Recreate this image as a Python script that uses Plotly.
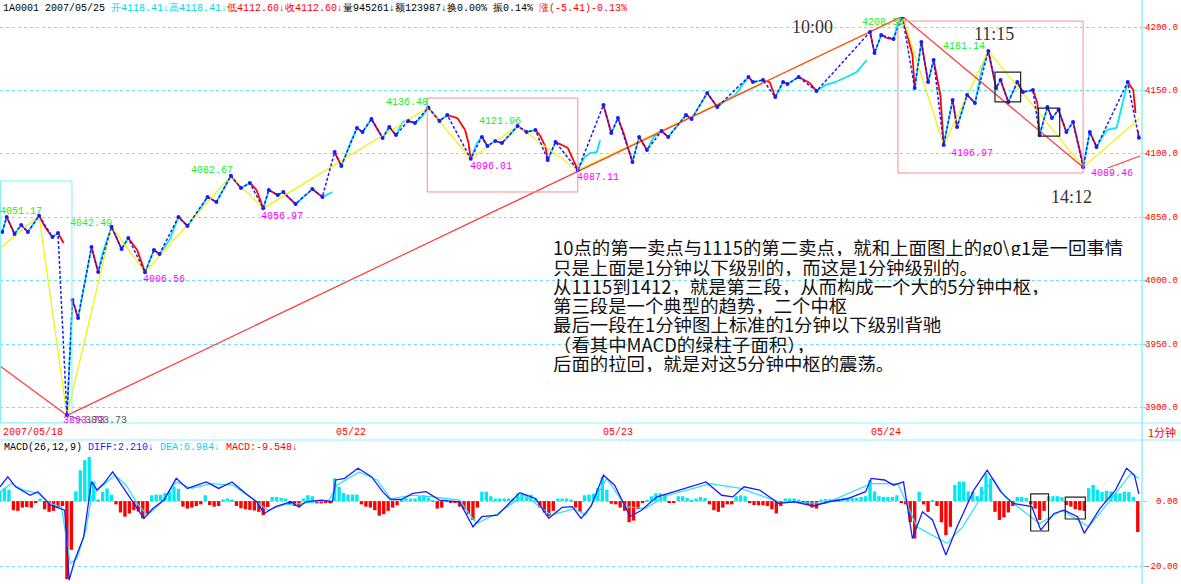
import plotly.graph_objects as go

# ---------------- data ----------------
DAY_LABELS = ["2007/05/18", "05/22", "05/23", "05/24"]
DAY_START_BARS = [1, 299, 539, 779]
PRICE_TICKS = [3900, 3950, 4000, 4050, 4100, 4150, 4200]
MACD_TICKS = [0, -20]

# 1-minute price path, per session (bar index, index level)
P18_T = [2, 6, 13, 19, 25, 35, 41, 47, 52, 57]
P18_V = [4038.3, 4050.2, 4036.8, 4043.9, 4038.3, 4051.17, 4041.5, 4034.4, 4037.5, 4029.7]
P21_T = [60, 65, 70, 82, 88, 92, 100, 109, 115, 123, 130, 138, 143, 152, 160, 168, 177, 186, 194, 207,
         216, 224, 230, 236, 241, 249, 254, 258, 265, 272, 280, 289, 298]
P21_V = [3893.73, 3984.7, 3970.5, 4026.5, 4006.8, 4021.8, 4042.49, 4024.9, 4033.6, 4024.1,
         4006.56, 4024.1, 4021.0, 4032.0, 4050.2, 4043.1, 4053.3, 4065.9, 4062.0, 4082.67,
         4073.0, 4077.0, 4071.5, 4056.97, 4071.5, 4067.5, 4069.9, 4066.0, 4060.4, 4066.0,
         4072.2, 4066.0, 4069.9]
P22_T = [300, 306, 314, 320, 325, 333, 343, 349, 355, 361, 366, 372, 378, 384, 394, 401, 410, 417, 420, 422,
         428, 432, 437, 444, 450, 457, 464, 472, 480, 484, 489, 491, 498, 504, 509, 514, 518, 524, 529, 535, 538]
P22_V = [4101.4, 4090.4, 4108.5, 4120.4, 4117.2, 4127.4, 4112.5, 4121.1, 4114.8, 4125.1,
         4125.9, 4124.3, 4129.0, 4136.48, 4125.9, 4130.6, 4128.2, 4118.8, 4108.5, 4096.01,
         4109.3, 4113.3, 4106.2, 4110.1, 4108.5, 4114.8, 4121.96, 4117.2, 4118.8, 4114.8,
         4105.4, 4095.1, 4109.3, 4106.9, 4104.6, 4095.1, 4087.11, 4097.5, 4100.6, 4101.4, 4110.9]
P23_T = [541, 548, 554, 559, 567, 573, 580, 586, 593, 599, 607, 615, 620, 634, 643, 652, 659, 671, 675, 684,
         690, 695, 702, 706, 716, 726, 732, 740, 749, 759, 768, 777]
P23_V = [4138.5, 4116.4, 4128.2, 4116.4, 4093.5, 4113.3, 4103.0, 4113.3, 4118.0, 4113.3,
         4121.9, 4130.6, 4127.4, 4148.0, 4136.9, 4143.2, 4146.4, 4160.6, 4156.6, 4158.2,
         4156.6, 4144.8, 4156.6, 4155.0, 4160.6, 4155.8, 4149.5, 4154.3, 4156.6, 4160.6,
         4164.5, 4174.0]
P24_T = [780, 784, 790, 795, 801, 805, 809, 818, 820, 826, 832, 837, 843, 846, 854, 858, 867, 874, 880, 886,
         893, 897, 904, 912, 917, 926, 930, 932, 939, 943, 949, 956, 962, 970, 971, 977, 983, 992, 1001, 1011,
         1016, 1018]
P24_V = [4196.1, 4179.5, 4193.7, 4191.3, 4190.5, 4203.2, 4208.39, 4177.9, 4151.9, 4188.2,
         4156.6, 4174.0, 4146.4, 4106.97, 4142.4, 4121.1, 4146.4, 4140.1, 4166.1, 4181.14,
         4151.9, 4158.2, 4140.9, 4156.6, 4148.7, 4150.3, 4140.1, 4114.8, 4136.9, 4128.2,
         4134.5, 4117.2, 4125.1, 4095.1, 4089.46, 4117.2, 4105.4, 4118.8, 4120.4, 4156.6,
         4150.3, 4132.2]
P25_T = [1020, 1021]
P25_V = [4118.41, 4112.60]

# 1-minute strokes (yellow) pivots
ZZ_T = [0, 35, 60, 100, 130, 207, 236, 384, 422, 464, 518, 809, 846, 886, 971, 1022]
ZZ_V = [4025.7, 4051.17, 3893.73, 4042.49, 4006.56, 4082.67, 4056.97, 4136.48, 4096.01, 4121.96,
        4087.11, 4208.39, 4106.97, 4181.14, 4089.46, 4128.2]

# red trend lines (start bar, start level, end bar, end level)
TREND_LINES = [(0, 3932.7, 60, 3893.73), (60, 3893.73, 809, 4208.39),
               (809, 4208.39, 971, 4089.46), (993, 4088.8, 1022, 4098.3)]

# pivot labels: text, bar, level, kind
PIVOT_LABELS = [("4051.17", 19, 4054.5, "hi"), ("4042.49", 82, 4045.0, "hi"),
                ("4006.56", 147, 4000.5, "lo"), ("4082.67", 190, 4086.6, "hi"),
                ("4056.97", 253, 4050.9, "lo"), ("4136.48", 365, 4140.3, "hi"),
                ("4121.96", 448, 4125.3, "hi"), ("4096.01", 440, 4089.6, "lo"),
                ("4087.11", 536, 4081.7, "lo"), ("4208.39", 792, 4203.9, "hi"),
                ("4181.14", 864, 4184.4, "hi"), ("4106.97", 871, 4100.6, "lo"),
                ("4089.46", 997, 4084.1, "lo"), ("3893.73", 75, 3889.5, "lo")]

# boxes (bar0, bar1, level0, level1)
BOX_CYAN = (0.5, 64.5, 3887.7, 4078.6)
BOX_PINK = [(383, 518, 4069.9, 4144.0), (805, 971, 4084.9, 4204.7)]
BOX_BLACK = [(892, 915, 4140.9, 4164.5), (931, 950, 4114.0, 4136.1)]
MACD_BOX_BLACK = [(924, 940, -9.2, 2.2), (955, 973, -5.5, 1.2)]

# MACD histogram, one reading every 4 bars starting at bar 0
MACD_STEP = 4
MACD_HIST = [
    3.0, 4.0, 3.5, -2.8, -3.0, -2.0, -1.8, -2.0, -0.5, 0.8, -2.5, -3.3, -3.0, -2.0, -1.5, -24.0,
    -15.0, 3.0, 9.5, 12.6, 13.6, 6.0, 0.5, 2.8, 3.9, 2.0, -1.0, -3.5, -4.8, -3.8, -2.8, -3.2,
    -5.3, -3.8, 1.8, 2.0, 2.0, 2.5, 3.0, 4.4, 3.8, -1.7, -2.3, -2.0, -1.5, -1.0, 1.8, -1.2,
    -1.7, -1.5, 0.5, 0.8, 0.5, -1.5, -2.2, -2.5, -2.7, -2.9, -3.3, -4.3, -1.8, 1.3, 1.3, 1.0,
    0.8, -1.0, -1.5, -1.5, 0.8, 1.8, 1.5, -0.7, -0.7, -0.5, -0.7, 7.0, 4.4, 2.5, 2.0, 2.0,
    2.0, -1.0, -1.7, -2.0, -2.8, -4.5, -4.0, -3.0, -2.0, -1.3, 0.5, 0.8, 0.8, 0.8, 1.5, 1.8,
    1.0, 0.3, -2.3, -2.0, 0.3, -0.3, -0.5, -1.7, -2.5, -4.0, -5.8, -2.0, 2.9, 2.9, 1.5, 0.8,
    0.8, 0.8, 0.8, 0.8, 2.4, 2.4, 2.0, 2.0, 1.0, -2.0, -3.5, -4.6, -3.0, 0.8, 0.8, 0.8,
    0.5, -2.0, -3.3, 1.8, 2.0, 2.3, 4.0, 7.5, 3.5, -0.8, -1.0, -2.0, -3.0, -6.5, -6.0, -2.5,
    -0.3, 0.3, 1.5, 2.4, 2.4, 2.0, -0.5, -0.5, 1.5, 1.5, 1.0, 0.3, 0.8, 1.3, 1.0, -1.0,
    -2.8, -3.3, -2.0, -1.0, -1.0, 1.5, 1.8, 1.5, -0.5, -1.2, -1.3, -1.3, -1.5, -2.5, -3.8, -1.5,
    0.8, 0.8, 0.8, 0.5, -0.5, -1.2, -2.0, -2.3, 0.5, 0.6, 0.6, 0.6, 0.6, 0.8, 0.8, 1.0,
    1.0, 1.3, 1.5, 6.5, 3.0, 1.5, 1.3, 1.3, 1.3, 1.8, -0.5, -1.0, -6.5, -11.5, 2.9, -1.0,
    -3.3, 0.3, -1.5, -6.5, -10.5, -7.9, 5.0, 6.0, 6.0, 3.0, 2.9, 1.5, 4.4, 8.5, 7.0, -3.3,
    -5.8, -5.0, -3.5, -1.5, 1.3, 1.3, 1.0, -1.0, -2.3, -5.8, -3.0, 1.5, 1.5, 1.5, 1.2, -1.2,
    -1.7, -2.5, -2.8, -3.0, 4.0, 5.0, 3.5, 2.8, 3.2, 3.0, 2.4, 2.4, 2.9, 2.8, 1.3, -9.5,
]

DIFF_T = [0, 7, 14, 27, 34, 45, 51, 58, 62, 67, 75, 82, 87, 93, 101, 110, 118, 129, 137, 147,
          158, 168, 185, 196, 208, 220, 230, 237, 247, 261, 268, 274, 288, 298, 301, 309, 321, 333, 343, 350,
          360, 370, 382, 394, 412, 424, 432, 446, 466, 480, 492, 504, 513, 521, 530, 541, 551, 565, 575, 589,
          609, 633, 647, 657, 667, 681, 698, 712, 729, 743, 760, 776, 781, 793, 801, 810, 818, 827, 836, 848,
          858, 873, 885, 897, 908, 925, 933, 945, 954, 966, 972, 986, 1000, 1010, 1017, 1021]
DIFF_V = [4.4, 7.5, 4.4, 1.8, 2.9, -1.2, -1.9, -2.8, -24.3, -18.2, -11.0, 6.0, 3.4, 5.4, 9.0, 4.4, 0.3, -5.3, -2.3, 0.3,
          7.0, 3.9, 5.9, 3.9, 5.9, 2.4, -0.2, -3.8, -1.7, -0.2, -1.9, -0.2, 0.3, -0.2, 6.5, 7.0, 10.1, 7.5, 2.9, 0.5,
          0.5, 2.4, 2.9, 0.3, -0.2, -7.9, -4.8, -4.3, 2.6, 0.8, -5.3, -1.9, -1.7, -5.3, -1.5, 8.0, 4.9, -4.8, -2.8, 1.3,
          3.4, 5.9, 1.8, 1.3, 4.4, 3.4, -0.7, -0.2, -1.5, -0.2, 0.8, 2.9, 7.0, 6.5, 4.9, 5.9, -11.5, -3.3, -5.8, -16.6,
          -7.9, 3.4, 9.5, 2.9, -0.7, -1.7, -8.9, -3.8, -2.8, -4.8, -9.9, -2.3, 3.4, 10.1, 8.0, 2.21]
DEA_T = [0, 10, 21, 34, 45, 55, 63, 69, 77, 82, 89, 103, 113, 123, 132, 144, 158, 172, 189, 209,
         226, 240, 254, 271, 295, 302, 322, 338, 350, 370, 388, 412, 427, 446, 470, 494, 515, 525, 544, 561,
         578, 599, 637, 664, 698, 740, 781, 805, 822, 849, 863, 890, 901, 932, 952, 976, 993, 1014, 1021]
DEA_V = [2.9, 5.4, 3.4, 2.4, -0.7, -1.7, -19.2, -17.6, -8.9, 1.3, 3.9, 8.0, 4.9, -0.7, -4.3, -0.7, 5.9, 3.9, 5.4, 4.9,
         0.8, -2.8, -1.2, -0.7, 0.3, 4.9, 9.0, 6.5, 0.8, 1.8, 1.3, 0.3, -6.9, -3.8, 1.8, -4.3, -2.3, -4.3, 7.0, -1.7,
         -2.3, 1.8, 5.4, 3.9, -0.2, -0.7, 5.4, 5.4, -7.9, -13.0, -7.9, 7.0, 1.3, -6.9, -2.8, -7.9, -0.7, 8.5, 6.984]

NOTE_LINES = [
    "10点的第一卖点与1115的第二卖点，就和上面图上的g0\\g1是一回事情",
    "只是上面是1分钟以下级别的，而这是1分钟级别的。",
    "从1115到1412，就是第三段，从而构成一个大的5分钟中枢，",
    "第三段是一个典型的趋势，二个中枢",
    "最后一段在1分钟图上标准的1分钟以下级别背驰",
    "（看其中MACD的绿柱子面积），",
    "后面的拉回，就是对这5分钟中枢的震荡。",
]
TIME_MARKS = [("10:00", 728, 4200.0), ("11:15", 891, 4194.5), ("14:12", 961, 4065.9)]

# ---------------- styling ----------------
W, H = 1181, 584
RIGHT = 1142 / W
MAIN_DOM = [1 - 423 / H, 1 - 17 / H]
MACD_DOM = [0, 1 - 440 / H]
XR = [0, 1023.8]
RED = "#ff0000"
CYAN = "#00e8f0"
GRID = "#6fe3ee"
BLUE = "#1a1aff"
YEL = "#f2f200"
MONO = "Liberation Mono, DejaVu Sans Mono, monospace"
CJK = "Noto Sans CJK SC, sans-serif"

fig = go.Figure()

# price line split into rising (cyan) and falling (red) pieces
sessions = [(P18_T, P18_V), (P21_T, P21_V), (P22_T, P22_V), (P23_T, P23_V), (P24_T, P24_V), (P25_T, P25_V)]
ux, uy, dx, dy = [], [], [], []
for t, v in sessions:
    for i in range(len(t) - 1):
        if v[i + 1] >= v[i]:
            ux += [t[i], t[i + 1], None]; uy += [v[i], v[i + 1], None]
        else:
            dx += [t[i], t[i + 1], None]; dy += [v[i], v[i + 1], None]
fig.add_trace(go.Scatter(x=ux, y=uy, mode="lines", line=dict(color=CYAN, width=1.8), hoverinfo="skip"))
fig.add_trace(go.Scatter(x=dx, y=dy, mode="lines", line=dict(color=RED, width=1.8), hoverinfo="skip"))

# yellow strokes
fig.add_trace(go.Scatter(x=ZZ_T, y=ZZ_V, mode="lines", line=dict(color=YEL, width=1.2), hoverinfo="skip"))

# red trend lines
tx, ty = [], []
for a, b, c, d in TREND_LINES:
    tx += [a, c, None]; ty += [b, d, None]
fig.add_trace(go.Scatter(x=tx, y=ty, mode="lines", line=dict(color="#ff3b3b", width=1.2), hoverinfo="skip"))

# blue dashed lower-level zigzag through local turning points
all_t = [x for t, _ in sessions for x in t]
all_v = [y for _, v in sessions for y in v]
piv = [0]
for i in range(1, len(all_v) - 1):
    if (all_v[i] - all_v[i - 1]) * (all_v[i + 1] - all_v[i]) < 0:
        piv.append(i)
piv.append(len(all_v) - 1)
fig.add_trace(go.Scatter(x=[all_t[i] for i in piv], y=[all_v[i] for i in piv], mode="lines+markers",
                         line=dict(color=BLUE, width=1.5, dash="3px,2px"),
                         marker=dict(color=BLUE, size=4), hoverinfo="skip"))

# MACD histogram
hx = [i * MACD_STEP for i in range(len(MACD_HIST))]
fig.add_trace(go.Bar(x=[x for x, v in zip(hx, MACD_HIST) if v >= 0], y=[v for v in MACD_HIST if v >= 0],
                     width=3.0, marker=dict(color=CYAN, line=dict(width=0)), xaxis="x2", yaxis="y2",
                     hoverinfo="skip"))
fig.add_trace(go.Bar(x=[x for x, v in zip(hx, MACD_HIST) if v < 0], y=[v for v in MACD_HIST if v < 0],
                     width=3.0, marker=dict(color=RED, line=dict(width=0)), xaxis="x2", yaxis="y2",
                     hoverinfo="skip"))
fig.add_trace(go.Scatter(x=DEA_T, y=DEA_V, mode="lines", line=dict(color="#22e6f2", width=1.2),
                         xaxis="x2", yaxis="y2", hoverinfo="skip"))
fig.add_trace(go.Scatter(x=DIFF_T, y=DIFF_V, mode="lines", line=dict(color=BLUE, width=1.3),
                         xaxis="x2", yaxis="y2", hoverinfo="skip"))

shapes = []
def rect(b, color, xr="x", yr="y", w=1):
    shapes.append(dict(type="rect", xref=xr, yref=yr, x0=b[0], x1=b[1], y0=b[2], y1=b[3],
                       line=dict(color=color, width=w), fillcolor="rgba(0,0,0,0)", layer="above"))
rect(BOX_CYAN, "#7ff0f5")
for b in BOX_PINK:
    rect(b, "#ff8c8c")
for b in BOX_BLACK:
    rect(b, "#222222", w=1.2)
for b in MACD_BOX_BLACK:
    rect(b, "#222222", xr="x2", yr="y2", w=1.2)
# panel frame lines
for yy in [MAIN_DOM[0], MACD_DOM[1]]:
    shapes.append(dict(type="line", xref="paper", yref="paper", x0=0, x1=1, y0=yy, y1=yy,
                       line=dict(color="#8ff0f5", width=1)))
shapes.append(dict(type="line", xref="paper", yref="paper", x0=RIGHT, x1=RIGHT, y0=0, y1=1,
                   line=dict(color="#8ff0f5", width=1.5)))

ann = []
header = ('<span style="color:#000">1A0001 2007/05/25 </span>'
          '<span style="color:#00d8e8">开4118.41↓高4118.41↓</span>'
          '<span style="color:#ff0000">低4112.60↓收4112.60↓</span>'
          '<span style="color:#000">量945261↓额123987↓换0.00% 振0.14% </span>'
          '<span style="color:#ff0000">涨(-5.41)-0.13%</span>')
ann.append(dict(text=header, xref="paper", yref="paper", x=0.001, y=1 - 8 / H, xanchor="left",
                yanchor="middle", showarrow=False, font=dict(family=MONO, size=10)))
macd_head = ('<span style="color:#000">MACD(26,12,9) </span>'
             '<span style="color:#1a1aff">DIFF:2.210↓ </span>'
             '<span style="color:#00d8e8">DEA:6.984↓ </span>'
             '<span style="color:#ff0000">MACD:-9.548↓</span>')
ann.append(dict(text=macd_head, xref="paper", yref="paper", x=0.002, y=1 - 447 / H, xanchor="left",
                yanchor="middle", showarrow=False, font=dict(family=MONO, size=10)))
for lab, b in zip(DAY_LABELS, DAY_START_BARS):
    ann.append(dict(text=lab, xref="x", yref="paper", x=b, y=1 - 432 / H, xanchor="left", yanchor="middle",
                    showarrow=False, font=dict(family=MONO, size=10, color=RED)))
ann.append(dict(text="1分钟", xref="paper", yref="paper", x=1162 / W, y=1 - 432 / H, xanchor="center",
                yanchor="middle", showarrow=False, font=dict(family=CJK, size=11, color=RED)))
# right-hand axis labels
for v in PRICE_TICKS:
    ann.append(dict(text=f"{v:.1f}", xref="paper", yref="y", x=1180 / W, y=v, xanchor="right",
                    yanchor="middle", showarrow=False, font=dict(family=MONO, size=9.2, color=RED)))
for v in MACD_TICKS:
    ann.append(dict(text=f"{v:.2f}", xref="paper", yref="y2", x=1180 / W, y=v, xanchor="right",
                    yanchor="middle", showarrow=False, font=dict(family=MONO, size=9.2, color=RED)))
for txt, b, v, kind in PIVOT_LABELS:
    ann.append(dict(text=txt, xref="x", yref="y", x=b, y=v, xanchor="center", yanchor="middle",
                    showarrow=False, font=dict(family=MONO, size=10,
                                               color="#22ee22" if kind == "hi" else "#ff00ff")))
# extreme value call-outs
ann.append(dict(text="4208.39", xref="x", yref="y", x=809, y=4208.39, ax=16, ay=-2, xanchor="left",
                showarrow=True, arrowhead=0, arrowwidth=1, arrowcolor="#666", standoff=0,
                font=dict(family=MONO, size=10, color="#555")))
ann.append(dict(text="3893.73", xref="x", yref="y", x=60, y=3893.73, ax=16, ay=5, xanchor="left",
                showarrow=True, arrowhead=0, arrowwidth=1, arrowcolor="#666", standoff=0,
                font=dict(family=MONO, size=10, color="#555")))
for txt, b, v in TIME_MARKS:
    ann.append(dict(text=txt, xref="x", yref="y", x=b, y=v, showarrow=False, xanchor="center",
                    yanchor="middle", font=dict(family="Liberation Serif, serif", size=18, color="#333")))
for i, line in enumerate(NOTE_LINES):
    ann.append(dict(text=line, xref="paper", yref="paper", x=551 / W, y=1 - (247 + i * 19.2) / H,
                    xanchor="left", yanchor="middle", showarrow=False, height=19, valign="middle",
                    font=dict(family=CJK, size=18.4, color="#111")))

fig.update_layout(
    width=W, height=H, margin=dict(l=0, r=0, t=0, b=0),
    paper_bgcolor="white", plot_bgcolor="white", showlegend=False, barmode="overlay",
    xaxis=dict(domain=[0, RIGHT], range=XR, anchor="y", showticklabels=False, showgrid=False,
               zeroline=False, showline=False, ticks=""),
    yaxis=dict(domain=MAIN_DOM, range=[3887.7, 4207.9], anchor="x", side="right",
               tickvals=PRICE_TICKS, showticklabels=False, ticks="outside", ticklen=4,
               tickcolor=GRID, showgrid=True, gridcolor=GRID, griddash="dot", gridwidth=1,
               zeroline=False, showline=False, automargin=False),
    xaxis2=dict(domain=[0, RIGHT], range=XR, anchor="y2", showticklabels=False, showgrid=False,
                zeroline=False, showline=False, ticks=""),
    yaxis2=dict(domain=MACD_DOM, range=[-25.5, 18.8], anchor="x2", side="right",
                tickvals=MACD_TICKS, showticklabels=False, ticks="outside", ticklen=4,
                tickcolor=GRID, showgrid=True, gridcolor=GRID, griddash="dot", gridwidth=1,
                zeroline=False, showline=False, automargin=False),
    shapes=shapes, annotations=ann,
)
fig.write_html("out.html", config={"displayModeBar": False},
               post_script="document.body.style.margin='0';")
